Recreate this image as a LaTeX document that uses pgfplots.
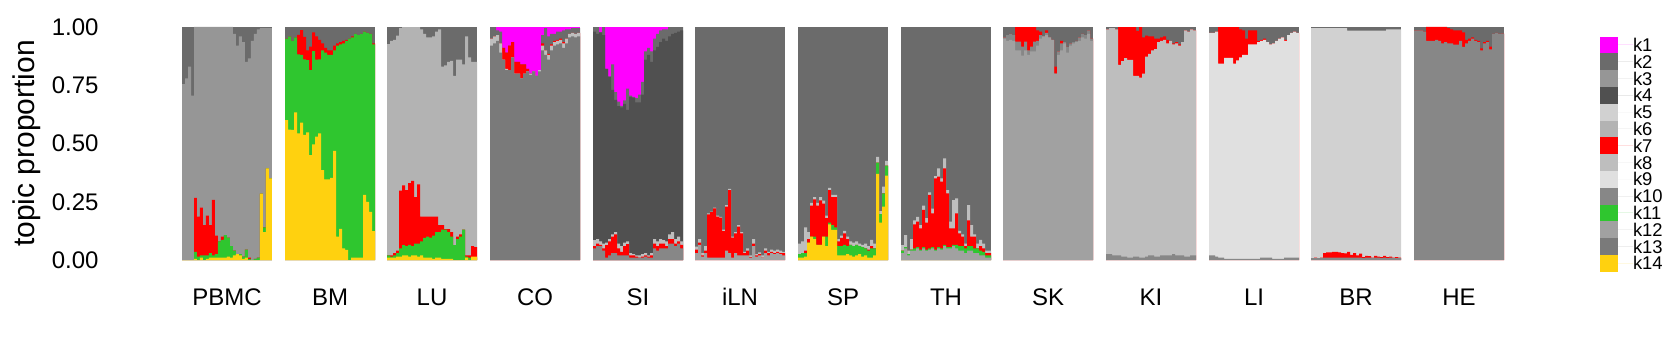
\documentclass[border=0pt]{standalone}
\usepackage{pgfplots}
\pgfplotsset{compat=1.18}
\usepackage{pgfplotstable}
\usepackage{fontspec}
\setmainfont{Liberation Sans}
\definecolor{k1}{HTML}{FF00FF}
\definecolor{k2}{HTML}{6B6B6B}
\definecolor{k3}{HTML}{969696}
\definecolor{k4}{HTML}{505050}
\definecolor{k5}{HTML}{D1D1D1}
\definecolor{k6}{HTML}{B3B3B3}
\definecolor{k7}{HTML}{FF0000}
\definecolor{k8}{HTML}{BEBEBE}
\definecolor{k9}{HTML}{E0E0E0}
\definecolor{k10}{HTML}{878787}
\definecolor{k11}{HTML}{2FC62F}
\definecolor{k12}{HTML}{A1A1A1}
\definecolor{k13}{HTML}{7A7A7A}
\definecolor{k14}{HTML}{FFD10F}

% cumulative boundaries per sample (30 samples per tissue, last row repeats)
\pgfplotstableread{
i T R G Y
0 .755 0 0 0
1 .78 0 0 0
2 .83 0 0 0
3 .705 0 0 0
4 1 .267 .035 .005
5 1 .186 .015 0
6 1 .225 .02 .01
7 1 .15 .02 0
8 1 .19 .02 .005
9 1 .15 .03 .01
10 1 .258 .02 .01
11 1 .105 .025 .01
12 1 .08 .08 .01
13 1 .1 .086 .01
14 1 .107 .107 .01
15 1 .096 .096 .015
16 1 .06 .06 .01
17 .97 .04 .04 .02
18 .92 .025 .025 .025
19 .96 .025 .025 .02
20 .935 .015 .015 .005
21 .85 .045 .045 .01
22 .865 .01 .005 0
23 .94 0 0 0
24 .97 .005 .005 0
25 .99 .01 .01 0
26 .995 .285 .285 .285
27 .995 .14 .14 .12
28 .995 .393 .393 .393
29 .995 .35 .35 .35
30 .995 .35 .35 .35
}\pbmc
\pgfplotstableread{
i R G Y
0 .95 .95 .60
1 .96 .96 .56
2 .94 .94 .558
3 .955 .955 .634
4 .966 .883 .544
5 .987 .88 .59
6 .958 .861 .537
7 .90 .858 .548
8 .916 .815 .45
9 .977 .897 .496
10 .96 .86 .53
11 .945 .861 .544
12 .93 .90 .386
13 .91 .89 .346
14 .90 .88 .346
15 .90 .88 .353
16 .92 .90 .468
17 .93 .92 .10
18 .935 .925 .134
19 .94 .93 .05
20 .945 .94 .043
21 .95 .95 0
22 .96 .955 .01
23 .97 .97 .01
24 .965 .965 .01
25 .97 .97 .01
26 .98 .98 .28
27 .975 .975 .25
28 .97 .97 .207
29 .93 .925 .124
30 .93 .925 .124
}\bm
\pgfplotstableread{
i T R G Y
0 .926 .02 .02 .01
1 .94 .02 .015 .01
2 .945 .03 .02 .01
3 .963 .04 .03 .015
4 .995 .298 .05 .015
5 1 .32 .064 .02
6 1 .30 .06 .02
7 1 .33 .065 .015
8 1 .34 .06 .02
9 1 .27 .07 .02
10 1 .325 .07 .015
11 .99 .186 .08 .02
12 .97 .186 .095 .01
13 .955 .186 .1 .01
14 .955 .186 .096 .01
15 .96 .186 .105 .005
16 .98 .186 .12 .01
17 .99 .15 .12 .01
18 .83 .15 .13 .005
19 .835 .133 .13 .005
20 .85 .133 .12 .005
21 .855 .12 .10 .005
22 .79 .064 .064 0
23 .86 .10 .09 0
24 .86 .11 .10 0
25 .84 .13 .13 0
26 .96 .02 .015 .01
27 .87 .02 .01 0
28 .85 .06 .01 .015
29 .85 .055 .01 .015
30 .85 .055 .01 .015
}\lu
\pgfplotstableread{
i D R L B
0 1 .95 .95 .92
1 1 .96 .96 .93
2 .985 .965 .965 .94
3 .98 .93 .93 .89
4 .91 .91 .86 .86
5 .89 .89 .82 .815
6 .92 .92 .815 .815
7 .935 .935 .87 .87
8 .85 .85 .80 .80
9 .85 .85 .80 .80
10 .84 .84 .78 .78
11 .84 .84 .80 .80
12 .82 .82 .81 .81
13 .80 .80 .80 .795
14 .81 .81 .81 .81
15 .79 .79 .79 .79
16 .815 .815 .815 .81
17 .965 .93 .92 .90
18 .995 .90 .90 .88
19 .96 .885 .88 .86
20 .97 .925 .92 .90
21 .97 .94 .935 .92
22 .98 .945 .94 .925
23 .98 .95 .945 .93
24 .985 .935 .93 .91
25 .99 .95 .95 .93
26 .99 .97 .97 .955
27 .995 .975 .975 .96
28 .995 .97 .97 .955
29 .995 .975 .975 .96
30 .995 .975 .975 .96
}\co
\pgfplotstableread{
i M Dk L R Rb
0 1 .98 .085 .06 .05
1 1 .97 .09 .07 .06
2 .977 .977 .08 .065 .06
3 1 .965 .07 .05 .04
4 .82 .82 .075 .064 .01
5 .787 .787 .09 .08 .02
6 .84 .73 .11 .10 .03
7 .72 .687 .12 .11 .03
8 .68 .66 .07 .05 .02
9 .662 .655 .06 .035 .02
10 .685 .67 .075 .06 .02
11 .735 .644 .08 .068 .02
12 .705 .70 .03 .02 .01
13 .70 .697 .025 .02 .01
14 .695 .677 .02 .015 .01
15 .71 .677 .02 .01 .01
16 .765 .71 .025 .015 .01
17 .895 .86 .03 .02 .015
18 .91 .88 .02 .015 .01
19 .895 .85 .03 .02 .01
20 .95 .90 .09 .07 .05
21 .97 .915 .08 .06 .04
22 .985 .935 .09 .07 .05
23 .99 .95 .085 .07 .05
24 .99 .94 .08 .06 .05
25 1 .96 .11 .09 .07
26 1 .97 .12 .09 .07
27 1 .975 .09 .07 .06
28 1 .98 .10 .08 .07
29 1 .985 .08 .065 .05
30 1 .985 .08 .065 .05
}\si
\pgfplotstableread{
i L R Rb
0 .057 .045 .03
1 .09 .075 .065
2 .03 .02 .015
3 .06 .04 .03
4 .20 .196 .01
5 .208 .205 .01
6 .225 .222 .01
7 .19 .186 .01
8 .185 .182 .01
9 .13 .124 .01
10 .235 .229 .04
11 .305 .30 .03
12 .10 .096 .01
13 .12 .114 .03
14 .15 .143 .02
15 .12 .114 .02
16 .035 .03 .02
17 .05 .04 .02
18 .02 .012 .01
19 .09 .07 .06
20 .025 .02 .015
21 .033 .025 .02
22 .02 .01 .01
23 .05 .04 .03
24 .035 .03 .02
25 .045 .035 .03
26 .04 .03 .025
27 .045 .035 .03
28 .04 .03 .025
29 .035 .03 .02
30 .035 .03 .02
}\iln
\pgfplotstableread{
i L R G Y
0 .07 .025 .025 .01
1 .08 .03 .03 .01
2 .14 .04 .03 .015
3 .12 .09 .075 .075
4 .245 .233 .10 .10
5 .27 .26 .10 .09
6 .245 .233 .065 .065
7 .27 .256 .065 .065
8 .255 .242 .10 .10
9 .19 .18 .10 .06
10 .31 .30 .16 .153
11 .28 .27 .15 .129
12 .28 .27 .14 .129
13 .09 .08 .06 .02
14 .105 .095 .06 .02
15 .125 .114 .065 .02
16 .10 .09 .06 .025
17 .08 .065 .065 .02
18 .075 .06 .06 .015
19 .08 .065 .065 .02
20 .07 .06 .06 .025
21 .065 .055 .055 .015
22 .07 .05 .05 .02
23 .06 .045 .04 .01
24 .086 .06 .05 .01
25 .07 .05 .05 .02
26 .443 .418 .418 .37
27 .21 .197 .197 .16
28 .315 .286 .286 .229
29 .425 .405 .405 .362
30 .425 .405 .405 .362
}\sp
\pgfplotstableread{
i L R G A
0 .064 .04 .04 .03
1 .107 .055 .055 .05
2 .04 .025 .025 .02
3 .09 .045 .045 .04
4 .17 .153 .05 .04
5 .185 .165 .055 .05
6 .15 .136 .045 .04
7 .233 .215 .055 .05
8 .18 .16 .045 .04
9 .29 .28 .05 .045
10 .22 .20 .055 .05
11 .36 .35 .045 .04
12 .393 .358 .055 .05
13 .35 .336 .05 .045
14 .436 .393 .065 .06
15 .30 .286 .055 .05
16 .165 .136 .055 .05
17 .257 .136 .065 .06
18 .265 .20 .065 .05
19 .125 .114 .06 .04
20 .11 .10 .06 .04
21 .07 .06 .05 .03
22 .236 .17 .06 .04
23 .15 .10 .06 .04
24 .11 .10 .05 .03
25 .07 .05 .05 .03
26 .086 .06 .04 .02
27 .07 .05 .035 .02
28 .04 .03 .02 .01
29 .04 .03 .02 .01
30 .04 .03 .02 .01
}\th
\pgfplotstableread{
i R Rb B
0 .955 .955 .95
1 .965 .965 .94
2 .97 .97 .945
3 .965 .965 .94
4 1 .937 .90
5 1 .937 .90
6 1 .916 .877
7 1 .937 .90
8 1 .90 .88
9 1 .916 .895
10 1 .937 .895
11 .985 .94 .92
12 .98 .965 .95
13 .96 .96 .96
14 .985 .975 .965
15 .955 .955 .955
16 .945 .945 .945
17 .83 .80 .80
18 .895 .895 .88
19 .94 .93 .90
20 .935 .935 .93
21 .915 .915 .89
22 .93 .93 .92
23 .935 .935 .93
24 .94 .94 .935
25 .955 .955 .94
26 .97 .97 .955
27 .965 .965 .95
28 .985 .985 .97
29 .95 .95 .94
30 .95 .95 .94
}\sk
\pgfplotstableread{
i R B Lb
0 .99 .99 .025
1 .995 .995 .025
2 .995 .995 .02
3 .99 .99 .02
4 1 .837 .02
5 1 .854 .015
6 1 .866 .015
7 1 .859 .01
8 1 .859 .01
9 1 .79 .015
10 .983 .79 .015
11 1 .783 .01
12 .955 .80 .01
13 .963 .873 .015
14 .96 .885 .02
15 .96 .90 .02
16 .95 .905 .015
17 .95 .935 .015
18 .955 .94 .02
19 .96 .945 .02
20 .945 .93 .02
21 .94 .94 .02
22 .93 .925 .025
23 .935 .93 .02
24 .925 .92 .02
25 .935 .935 .02
26 .985 .985 .015
27 .98 .98 .015
28 .99 .99 .02
29 .985 .985 .02
30 .985 .985 .02
}\ki
\pgfplotstableread{
i R B Lb
0 .975 .975 .02
1 .975 .975 .02
2 .98 .98 .015
3 1 .843 .01
4 1 .843 .01
5 1 .868 .005
6 1 .868 .005
7 1 .868 .005
8 1 .843 .005
9 1 .857 .005
10 .99 .87 .005
11 .985 .88 .005
12 .95 .88 .005
13 .985 .925 .005
14 .985 .925 .005
15 .985 .925 .005
16 .94 .935 .005
17 .945 .94 .01
18 .95 .945 .01
19 .935 .935 .01
20 .925 .925 .01
21 .93 .93 .005
22 .94 .94 .005
23 .95 .95 .005
24 .955 .955 .005
25 .945 .94 .01
26 .965 .965 .01
27 .975 .975 .01
28 .98 .98 .01
29 .975 .975 .01
30 .975 .975 .01
}\li
\pgfplotstableread{
i T R Lb
0 .995 .008 .008
1 .995 .01 .008
2 .995 .008 .008
3 .995 .01 .008
4 .995 .03 .01
5 .995 .033 .01
6 .995 .033 .01
7 .995 .035 .01
8 .995 .035 .01
9 .995 .033 .01
10 .995 .03 .01
11 .995 .028 .01
12 .984 .035 .01
13 .984 .022 .01
14 .984 .03 .01
15 .984 .02 .01
16 .984 .027 .01
17 .984 .012 .008
18 .984 .018 .01
19 .984 .017 .01
20 .984 .01 .008
21 .984 .018 .01
22 .984 .015 .01
23 .984 .012 .008
24 .984 .018 .01
25 .99 .012 .008
26 .99 .015 .01
27 .99 .01 .008
28 .99 .012 .008
29 .99 .01 .008
30 .99 .01 .008
}\br
\pgfplotstableread{
i R B
0 .985 .985
1 .985 .985
2 .985 .985
3 .98 .98
4 1 .94
5 1 .94
6 1 .94
7 1 .945
8 1 .94
9 1 .93
10 1 .935
11 .995 .93
12 .99 .93
13 .985 .924
14 .985 .924
15 .985 .94
16 .977 .915
17 .945 .93
18 .95 .94
19 .955 .95
20 .945 .94
21 .94 .935
22 .908 .90
23 .935 .93
24 .94 .935
25 .916 .904
26 .97 .97
27 .975 .975
28 .97 .97
29 .972 .972
30 .972 .972
}\he

\pgfplotsset{
  panel/.style={scale only axis, width=45pt, height=116.5pt,
    xmin=0, xmax=30, ymin=0, ymax=1,
    axis line style={draw=none}, xtick=\empty, ytick=\empty,
    anchor=south west, axis background/.style={fill=#1}},
  lay/.style={const plot, draw=none, fill=#1, forget plot},
}
\newcommand\lay[3]{\addplot[lay=#1] table[x=i,y=#2]{#3}\closedcycle;}

\begin{document}
\begin{tikzpicture}
\path[use as bounding box] (0,0) rectangle (840pt,180pt);

% PBMC
\begin{axis}[panel=k2, at={(91pt,50pt)},
  ytick={0,0.25,0.5,0.75,1}, yticklabels={0.00,0.25,0.50,0.75,1.00},
  major tick length=0pt,
  yticklabel style={font=\fontsize{12}{14}\selectfont, anchor=east, inner sep=0pt, xshift=-41.5pt}]
\lay{k3}{T}{\pbmc}\lay{k7}{R}{\pbmc}\lay{k11}{G}{\pbmc}\lay{k14}{Y}{\pbmc}
\end{axis}
% BM
\begin{axis}[panel=k2, at={(142.5pt,50pt)}]
\lay{k7}{R}{\bm}\lay{k11}{G}{\bm}\lay{k14}{Y}{\bm}
\end{axis}
% LU
\begin{axis}[panel=k2, at={(193.5pt,50pt)}]
\lay{k6}{T}{\lu}\lay{k7}{R}{\lu}\lay{k11}{G}{\lu}\lay{k14}{Y}{\lu}
\end{axis}
% CO
\begin{axis}[panel=k1, at={(245pt,50pt)}]
\lay{k2}{D}{\co}\lay{k7}{R}{\co}\lay{k8}{L}{\co}\lay{k13}{B}{\co}
\end{axis}
% SI
\begin{axis}[panel=k1, at={(296.5pt,50pt)}]
\lay{k2}{M}{\si}\lay{k4}{Dk}{\si}\lay{k8}{L}{\si}\lay{k7}{R}{\si}\lay{k10}{Rb}{\si}
\end{axis}
% iLN
\begin{axis}[panel=k2, at={(347.5pt,50pt)}]
\lay{k8}{L}{\iln}\lay{k7}{R}{\iln}\lay{k12}{Rb}{\iln}
\end{axis}
% SP
\begin{axis}[panel=k2, at={(399pt,50pt)}]
\lay{k8}{L}{\sp}\lay{k7}{R}{\sp}\lay{k11}{G}{\sp}\lay{k14}{Y}{\sp}
\end{axis}
% TH
\begin{axis}[panel=k2, at={(450.5pt,50pt)}]
\lay{k8}{L}{\th}\lay{k7}{R}{\th}\lay{k11}{G}{\th}\lay{k12}{A}{\th}
\end{axis}
% SK
\begin{axis}[panel=k2, at={(501.5pt,50pt)}]
\lay{k7}{R}{\sk}\lay{k10}{Rb}{\sk}\lay{k12}{B}{\sk}
\end{axis}
% KI
\begin{axis}[panel=k2, at={(553pt,50pt)}]
\lay{k7}{R}{\ki}\lay{k8}{B}{\ki}\lay{k10}{Lb}{\ki}
\end{axis}
% LI
\begin{axis}[panel=k2, at={(604.5pt,50pt)}]
\lay{k7}{R}{\li}\lay{k9}{B}{\li}\lay{k10}{Lb}{\li}
\end{axis}
% BR
\begin{axis}[panel=k2, at={(655.5pt,50pt)}]
\lay{k5}{T}{\br}\lay{k7}{R}{\br}\lay{k10}{Lb}{\br}
\end{axis}
% HE + legend
\begin{axis}[panel=k2, at={(707pt,50pt)},
  legend image code/.code={\fill[#1] (0pt,-4.2pt) rectangle (9pt,4.2pt); \path (0pt,0pt) -- (16.5pt,0pt);},
  legend cell align=left,
  legend style={at={(rel axis cs:2.0667,0.959)}, anchor=north west, draw=none, fill=none,
    inner sep=0pt, outer sep=0pt, row sep=0pt, column sep=0pt,
    nodes={inner sep=0pt, font=\fontsize{9.2}{10}\selectfont, text height=7.5pt, text depth=0.9pt}}]
\addlegendimage{fill=k1,draw=none}
\addlegendimage{fill=k2,draw=none}
\addlegendimage{fill=k3,draw=none}
\addlegendimage{fill=k4,draw=none}
\addlegendimage{fill=k5,draw=none}
\addlegendimage{fill=k6,draw=none}
\addlegendimage{fill=k7,draw=none}
\addlegendimage{fill=k8,draw=none}
\addlegendimage{fill=k9,draw=none}
\addlegendimage{fill=k10,draw=none}
\addlegendimage{fill=k11,draw=none}
\addlegendimage{fill=k12,draw=none}
\addlegendimage{fill=k13,draw=none}
\addlegendimage{fill=k14,draw=none}
\legend{k1,k2,k3,k4,k5,k6,k7,k8,k9,k10,k11,k12,k13,k14}
\lay{k7}{R}{\he}\lay{k10}{B}{\he}
\end{axis}

\node[rotate=90, font=\fontsize{15}{18}\selectfont] at (13.5pt,108.25pt) {topic proportion};
\begin{scope}[every node/.style={font=\fontsize{12}{14}\selectfont}]
\node at (113.5pt,31.5pt) {PBMC};
\node at (165pt,31.5pt) {BM};
\node at (216pt,31.5pt) {LU};
\node at (267.5pt,31.5pt) {CO};
\node at (319pt,31.5pt) {SI};
\node at (370pt,31.5pt) {iLN};
\node at (421.5pt,31.5pt) {SP};
\node at (473pt,31.5pt) {TH};
\node at (524pt,31.5pt) {SK};
\node at (575.5pt,31.5pt) {KI};
\node at (627pt,31.5pt) {LI};
\node at (678pt,31.5pt) {BR};
\node at (729.5pt,31.5pt) {HE};
\end{scope}
\end{tikzpicture}
\end{document}
